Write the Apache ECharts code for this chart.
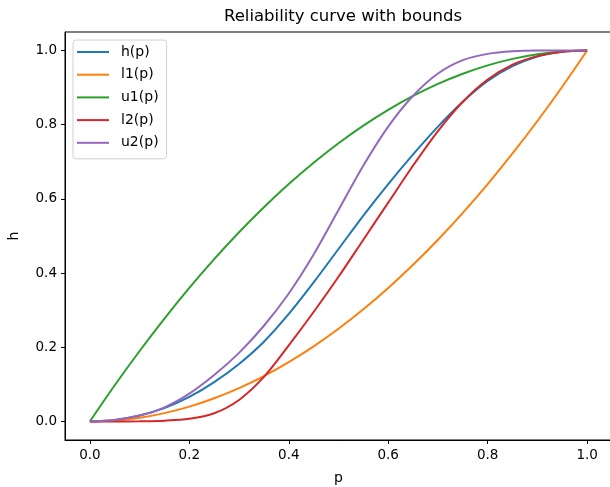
<!DOCTYPE html>
<html>
<head>
<meta charset="utf-8">
<title>Reliability curve with bounds</title>
<script src="https://cdn.jsdelivr.net/npm/echarts@6/dist/echarts.min.js"></script>
<style>
  html, body { margin: 0; padding: 0; background: #fff; }
  #chart { width: 610px; height: 487px; }
</style>
</head>
<body>
<div id="chart"></div>
<script>
  var pVals = [0, 0.05, 0.1, 0.15, 0.2, 0.25, 0.3, 0.35, 0.4, 0.45, 0.5,
               0.55, 0.6, 0.65, 0.7, 0.75, 0.8, 0.85, 0.9, 0.95, 1];

  var hVals  = [0, 0.004, 0.016, 0.036, 0.066, 0.106, 0.155, 0.215, 0.29, 0.375, 0.465,
                0.555, 0.64, 0.72, 0.795, 0.862, 0.918, 0.958, 0.984, 0.997, 1];
  var l1Vals = [0, 0.0025, 0.01, 0.0225, 0.04, 0.0625, 0.09, 0.1225, 0.16, 0.2025, 0.25,
                0.3025, 0.36, 0.4225, 0.49, 0.5625, 0.64, 0.7225, 0.81, 0.9025, 1];
  var u1Vals = [0, 0.0975, 0.19, 0.2775, 0.36, 0.4375, 0.51, 0.5775, 0.64, 0.6975, 0.75,
                0.7975, 0.84, 0.8775, 0.91, 0.9375, 0.96, 0.9775, 0.99, 0.9975, 1];
  var l2Vals = [0, 0, 0.0005, 0.002, 0.007, 0.022, 0.058, 0.12, 0.205, 0.295, 0.39,
                0.49, 0.59, 0.69, 0.783, 0.862, 0.922, 0.962, 0.985, 0.997, 1];
  var u2Vals = [0, 0.004, 0.016, 0.038, 0.075, 0.125, 0.185, 0.258, 0.345, 0.45, 0.57,
                0.69, 0.795, 0.878, 0.938, 0.974, 0.991, 0.998, 1, 1, 1];

  var names  = ['h(p)', 'l1(p)', 'u1(p)', 'l2(p)', 'u2(p)'];
  var colors = ['#1f77b4', '#ff7f0e', '#2ca02c', '#d62728', '#9467bd'];
  var ticks  = [0, 0.2, 0.4, 0.6, 0.8, 1.0];

  function pairs(vals) {
    return pVals.map(function (p, i) { return [p, vals[i]]; });
  }

  var allVals = [hVals, l1Vals, u1Vals, l2Vals, u2Vals];
  var series = allVals.map(function (vals, i) {
    return {
      name: names[i],
      type: 'line',
      data: pairs(vals),
      symbol: 'none',
      smooth: 0.3,
      lineStyle: { color: colors[i], width: 2 },
      itemStyle: { color: colors[i] }
    };
  });

  var font = 'DejaVu Sans';
  var axisCommon = {
    type: 'value',
    min: -0.05,
    max: 1.05,
    splitLine: { show: false },
    axisLine: { show: true, onZero: false, lineStyle: { color: '#000', width: 1 } },
    axisTick: { show: true, inside: false, length: 4, customValues: ticks,
                lineStyle: { color: '#000', width: 1 } },
    axisLabel: { customValues: ticks, color: '#000', fontFamily: font, fontSize: 13.5,
                 formatter: function (v) { return v.toFixed(1); } },
    nameTextStyle: { color: '#000', fontFamily: font, fontSize: 14 }
  };

  var chart = echarts.init(document.getElementById('chart'));
  chart.setOption({
    animation: false,
    title: {
      text: 'Reliability curve with bounds',
      left: 338, top: 3, textAlign: 'center',
      textStyle: { color: '#000', fontFamily: font, fontSize: 16.5, fontWeight: 'normal' }
    },
    legend: {
      orient: 'vertical',
      left: 73, top: 40,
      padding: [5, 8, 9, 4],
      itemGap: 8.7,
      itemWidth: 32, itemHeight: 2,
      icon: 'rect',
      borderColor: '#d0d0d0', borderWidth: 1, borderRadius: 3,
      backgroundColor: 'rgba(255,255,255,0.8)',
      textStyle: { color: '#000', fontFamily: font, fontSize: 14, padding: [0, 0, 0, 7],
                   lineHeight: 14 },
      data: names
    },
    grid: { left: 65, right: -2, top: 32, bottom: 47, show: true,
            borderColor: '#000', borderWidth: 1, containLabel: false,
            outerBoundsMode: 'none' },
    xAxis: Object.assign({}, axisCommon, {
      name: 'p', nameLocation: 'middle', nameGap: 31
    }),
    yAxis: Object.assign({}, axisCommon, {
      name: 'h', nameLocation: 'middle', nameGap: 44, nameRotate: 90
    }),
    series: series
  });
</script>
</body>
</html>
